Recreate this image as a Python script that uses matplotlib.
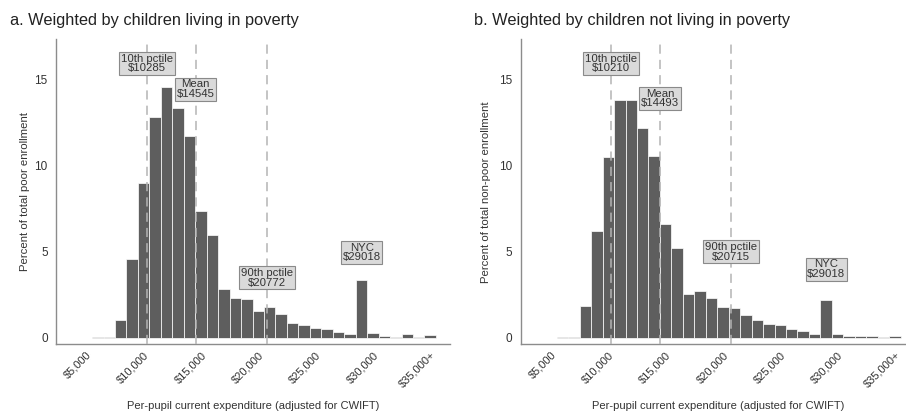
import numpy as np
import matplotlib.pyplot as plt

plt.rcParams['font.family'] = ['Liberation Sans', 'DejaVu Sans']

# bin centres ($1,000 bins), last bin is top-coded at $35,000+
bins = np.arange(6000, 36000, 1000)

poor_pct = [0.07, 0.08, 1.07, 4.61, 9.01, 12.85, 14.56, 13.34, 11.74, 7.36,
            6.00, 2.83, 2.34, 2.25, 1.55, 1.80, 1.38, 0.89, 0.78, 0.58,
            0.54, 0.35, 0.25, 3.37, 0.31, 0.10, 0.06, 0.20, 0.07, 0.15]
nonpoor_pct = [0.07, 0.08, 1.86, 6.22, 10.52, 13.82, 13.82, 12.17, 10.58, 6.59,
               5.23, 2.58, 2.73, 2.33, 1.80, 1.72, 1.36, 1.03, 0.79, 0.74,
               0.54, 0.41, 0.25, 2.23, 0.25, 0.12, 0.10, 0.10, 0.08, 0.10]

xticks = [5000, 10000, 15000, 20000, 25000, 30000, 35000]
xticklabels = ['$5,000', '$10,000', '$15,000', '$20,000', '$25,000', '$30,000', '$35,000+']

# reference lines: (label, value, label height)
poor_marks = [('10th pctile', 10285, 15.95), ('Mean', 14545, 14.46),
              ('90th pctile', 20772, 3.49)]
nonpoor_marks = [('10th pctile', 10210, 15.95), ('Mean', 14493, 13.92),
                 ('90th pctile', 20715, 5.0)]
nyc_value = 29018
nyc_poor_y = 4.97
nyc_nonpoor_y = 4.0

BAR = '#5e5e5e'
LINE = '#b4b4b4'
SPINE = '#8c8c8c'
TEXT = '#333333'

fig = plt.figure(figsize=(9.06, 4.11), dpi=100)
ax1 = fig.add_axes([0.0618, 0.1623, 0.4349, 0.7421])
ax2 = fig.add_axes([0.5747, 0.1623, 0.4349, 0.7421])


def draw_panel(ax, pct, marks, nyc_y, ylabel, ylab_x):
    ax.bar(bins, pct, width=1000, color=BAR, edgecolor='white', linewidth=0.5, zorder=2)
    box = dict(boxstyle='square,pad=0.15', facecolor='#dadada', edgecolor='#8a8a8a', linewidth=0.8)
    for name, val, ty in marks:
        ax.axvline(val, color=LINE, linestyle=(0, (6, 4)), linewidth=1.1, zorder=3)
        ax.text(val, ty, f'{name}\n${val}', ha='center', va='center', fontsize=8.2,
                color=TEXT, linespacing=0.95, bbox=box, zorder=4)
    ax.text(nyc_value, nyc_y, f'NYC\n${nyc_value}', ha='center', va='center', fontsize=8.2,
            color=TEXT, linespacing=0.95, bbox=box, zorder=4)

    ax.set_xlim(2350, 36730)
    ax.set_ylim(-0.37, 17.35)
    ax.set_yticks([0, 5, 10, 15])
    ax.set_xticks(xticks)
    ax.set_xticklabels(xticklabels, rotation=45, ha='right', rotation_mode='anchor')
    ax.tick_params(axis='both', length=0, labelsize=8, labelcolor=TEXT)
    ax.tick_params(axis='x', pad=4)
    ax.tick_params(axis='y', labelsize=8.5, pad=6)
    for s in ['top', 'right']:
        ax.spines[s].set_visible(False)
    for s in ['left', 'bottom']:
        ax.spines[s].set_color(SPINE)
        ax.spines[s].set_linewidth(1.0)
    ax.set_ylabel(ylabel, fontsize=8.2, color=TEXT, va='center')
    ax.yaxis.set_label_coords(ylab_x, 0.5)
    ax.set_xlabel('Per-pupil current expenditure (adjusted for CWIFT)', fontsize=8,
                  color=TEXT, va='center')
    ax.xaxis.set_label_coords(0.5, -0.202)


draw_panel(ax1, poor_pct, poor_marks, nyc_poor_y, 'Percent of total poor enrollment', -0.079)
draw_panel(ax2, nonpoor_pct, nonpoor_marks, nyc_nonpoor_y,
           'Percent of total non-poor enrollment', -0.088)

fig.text(0.011, 0.951, 'a. Weighted by children living in poverty', fontsize=11.8,
         color='#222222', va='center')
fig.text(0.523, 0.951, 'b. Weighted by children not living in poverty', fontsize=11.8,
         color='#222222', va='center')

fig.savefig('out.png', dpi=100)
